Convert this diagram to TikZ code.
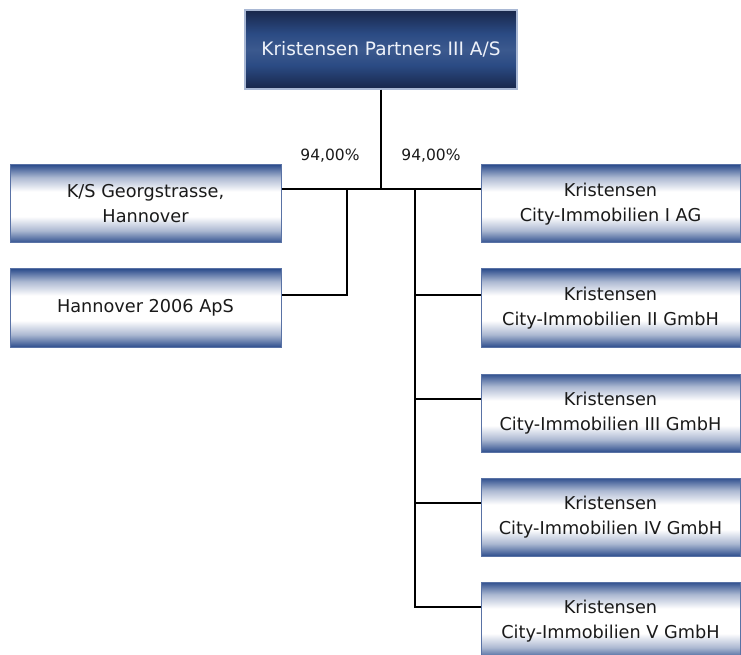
\documentclass[tikz,border=0pt]{standalone}
\usepackage{fontspec}
\setmainfont{DejaVu Sans}
\definecolor{navyD}{HTML}{18264A}
\definecolor{navyM}{HTML}{2B4B84}
\definecolor{edgeB}{HTML}{2F4F8E}
\definecolor{lightE}{HTML}{A9B8D4}
\definecolor{txtD}{HTML}{1A1A1A}
\definecolor{txtL}{HTML}{EEF2FA}
\pgfdeclareverticalshading{lightfill}{100bp}{color(0bp)=(edgeB); color(25bp)=(edgeB); color(33bp)=(edgeB!40!white); color(42bp)=(white); color(58bp)=(white); color(67bp)=(edgeB!40!white); color(75bp)=(edgeB); color(100bp)=(edgeB)}
\pgfdeclareverticalshading{darkfill}{100bp}{color(0bp)=(navyD); color(25bp)=(navyD); color(40bp)=(navyM); color(50bp)=(navyM!92!white); color(60bp)=(navyM); color(75bp)=(navyD); color(100bp)=(navyD)}
\tikzset{
  lightbox/.style={draw=edgeB!80!white, line width=1pt, shading=lightfill, rectangle, minimum height=78pt, align=center, text=txtD, font=\fontsize{17.7}{25}\selectfont, inner sep=0pt},
  darkbox/.style={draw=lightE, line width=1.2pt, shading=darkfill, rectangle, minimum width=272pt, minimum height=79pt, align=center, text=txtL, font=\fontsize{18.5}{25}\selectfont, inner sep=0pt},
  wire/.style={draw=black, line width=2pt},
  pct/.style={font=\fontsize{15.5}{18}\selectfont, text=txtD, inner sep=0pt}
}
\begin{document}
\begin{tikzpicture}[x=1pt,y=1pt]
\useasboundingbox (0,0) rectangle (741,654);
\clip (0,0) rectangle (741,654);
\fill[white] (0,0) rectangle (741,654);
\node[darkbox] (top) at (381,604.5) {Kristensen Partners III A/S};
\node[lightbox, minimum width=271pt] (ks) at (145.5,450) {K/S Georgstrasse,\\Hannover};
\node[lightbox, minimum width=271pt] (hn) at (145.5,346) {Hannover 2006 ApS};
\node[lightbox, minimum width=259pt] (r1) at (610.5,450) {Kristensen\\City-Immobilien I AG};
\node[lightbox, minimum width=259pt] (r2) at (610.5,346) {Kristensen\\City-Immobilien II GmbH};
\node[lightbox, minimum width=259pt] (r3) at (610.5,241) {Kristensen\\City-Immobilien III GmbH};
\node[lightbox, minimum width=259pt] (r4) at (610.5,137) {Kristensen\\City-Immobilien IV GmbH};
\node[lightbox, minimum width=259pt] (r5) at (610.5,33) {Kristensen\\City-Immobilien V GmbH};
\node[pct] (pl) at (330,498) {94,00\%};
\node[pct] (pr) at (431,498) {94,00\%};
\coordinate (j) at (381,465);
\coordinate (jl) at (347,465);
\coordinate (jr) at (415,465);
\coordinate (jl2) at (347,359);
\coordinate (jr2) at (415,359);
\coordinate (jr3) at (415,255);
\coordinate (jr4) at (415,151);
\coordinate (jr5) at (415,47);
\draw[wire] (top.south) -- (top.south |- j);
\draw[wire] (ks.east |- j) -- (r1.west |- j);
\draw[wire] (jl) -- (jl2) -- (hn.east |- jl2);
\draw[wire] (jr) -- (jr5) -- (r5.west |- jr5);
\draw[wire] (jr2) -- (r2.west |- jr2);
\draw[wire] (jr3) -- (r3.west |- jr3);
\draw[wire] (jr4) -- (r4.west |- jr4);
\end{tikzpicture}
\end{document}
